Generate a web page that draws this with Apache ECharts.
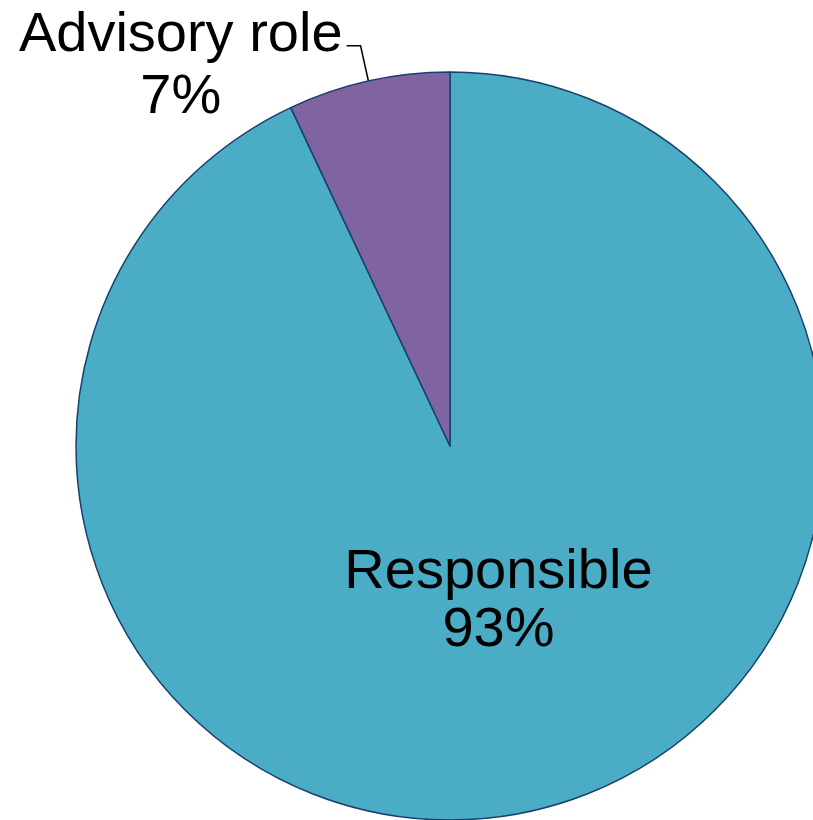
<!DOCTYPE html>
<html>
<head>
<meta charset="utf-8">
<script src="https://cdn.jsdelivr.net/npm/echarts@6/dist/echarts.min.js"></script>
<style>
  html, body { margin: 0; padding: 0; background: #ffffff; }
  #chart { width: 813px; height: 820px; }
</style>
</head>
<body>
<div id="chart"></div>
<script>
// Share of respondents by role
const categories = ['Responsible', 'Advisory role'];
const shares = [93, 7];
const sliceColors = ['#4BACC6', '#8064A2'];

const chart = echarts.init(document.getElementById('chart'), null, { renderer: 'canvas' });

const labelFont = {
  fontFamily: '"Liberation Sans", Arial, sans-serif',
  fontSize: 56,
  lineHeight: 62,
  color: '#000000'
};

const data = categories.map((name, i) => {
  const item = {
    name: name,
    value: shares[i],
    itemStyle: { color: sliceColors[i] }
  };
  if (i === 1) {
    item.label = {
      position: 'outside',
      distanceToLabelLine: 4,
      padding: [42, 0, 0, 0],
      formatter: '{t|{b}}\n{t|{c}%}',
      rich: { t: Object.assign({ align: 'center' }, labelFont) }
    };
    item.labelLine = {
      show: true,
      length: 36,
      length2: 14,
      lineStyle: { color: '#000000', width: 1.5 }
    };
  } else {
    item.label = {
      position: 'inside',
      formatter: '{b}\n{c}%'
    };
    item.labelLine = { show: false };
  }
  return item;
});

chart.setOption({
  animation: false,
  backgroundColor: '#ffffff',
  series: [{
    type: 'pie',
    center: [450, 446],
    radius: 374,
    startAngle: 90,
    clockwise: true,
    avoidLabelOverlap: false,
    itemStyle: { borderColor: '#17406D', borderWidth: 1.5 },
    label: Object.assign({ show: true }, labelFont, { lineHeight: 58 }),
    labelLayout: function (params) {
      if (params.dataIndex === 0) {
        return { dx: 7, dy: -30 };
      }
      return {};
    },
    emphasis: { disabled: true },
    data: data
  }]
});
</script>
</body>
</html>
